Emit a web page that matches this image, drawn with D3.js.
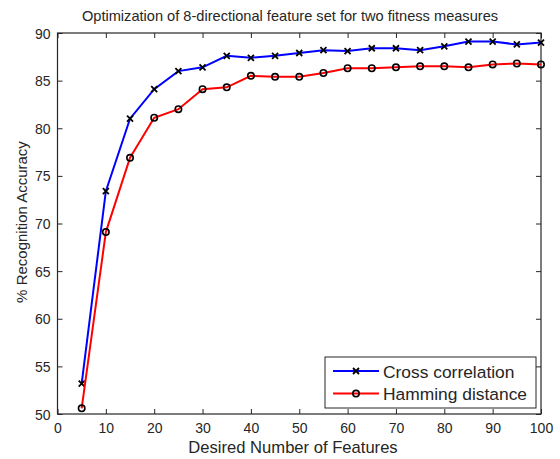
<!DOCTYPE html>
<html>
<head>
<meta charset="utf-8">
<script src="https://cdn.jsdelivr.net/npm/d3@7"></script>
<style>
  body { margin: 0; background: #fff; }
  svg { display: block; font-family: "Liberation Sans", Arial, sans-serif; }
</style>
</head>
<body>
<div id="chart"></div>
<script>
// Data
const features = [5, 10, 15, 20, 25, 30, 35, 40, 45, 50, 55, 60, 65, 70, 75, 80, 85, 90, 95, 100];
const crossCorrelation = [53.2, 73.4, 81.0, 84.1, 86.0, 86.4, 87.6, 87.4, 87.6, 87.9, 88.2, 88.1, 88.4, 88.4, 88.2, 88.6, 89.1, 89.1, 88.8, 89.0];
const hammingDistance = [50.6, 69.1, 76.9, 81.1, 82.0, 84.1, 84.3, 85.5, 85.4, 85.4, 85.8, 86.3, 86.3, 86.4, 86.5, 86.5, 86.4, 86.7, 86.8, 86.7];
const xTicks = [0, 10, 20, 30, 40, 50, 60, 70, 80, 90, 100];
const yTicks = [50, 55, 60, 65, 70, 75, 80, 85, 90];
const seriesNames = ["Cross correlation", "Hamming distance"];

/*******************************/
/*    Declare the constants    */
/*******************************/
const margin = {top: 33, right: 19, bottom: 45, left: 57.5};
const width = 560;
const height = 459;
const innerWidth = width - margin.left - margin.right;
const innerHeight = height - margin.top - margin.bottom;

const svg = d3.select("#chart")
  .append("svg")
    .attr("width", width)
    .attr("height", height);

const innerChart = svg
  .append("g")
    .attr("transform", `translate(${margin.left}, ${margin.top})`);

/****************************/
/*    Declare the scales    */
/****************************/
const xScale = d3.scaleLinear()
  .domain([0, 100])
  .range([0, innerWidth]);

const yScale = d3.scaleLinear()
  .domain([50, 90])
  .range([innerHeight, 0]);

/**************************/
/*      Add the axes      */
/**************************/
const axisColor = "#262626";

// text baseline placed directly, without the em-based dy shift
const styleAxis = (textY) => (g) => {
  g.select(".domain").remove();
  g.selectAll("line").attr("stroke", axisColor);
  g.selectAll("text")
    .attr("dy", null)
    .attr("y", textY)
    .attr("fill", axisColor)
    .style("font-size", "14px");
};

// ticks only, no labels, for the top and right sides
const noLabels = (g) => {
  g.select(".domain").remove();
  g.selectAll("text").remove();
  g.selectAll("line").attr("stroke", axisColor);
};

innerChart.append("g")
    .attr("transform", `translate(0, ${innerHeight})`)
    .call(d3.axisBottom(xScale).tickValues(xTicks).tickSize(-5).tickPadding(9))
    .call(styleAxis(19));

innerChart.append("g")
    .call(d3.axisTop(xScale).tickValues(xTicks).tickSize(-5))
    .call(noLabels);

innerChart.append("g")
    .call(d3.axisLeft(yScale).tickValues(yTicks).tickSize(-5).tickPadding(7))
    .call(styleAxis(5));

innerChart.append("g")
    .attr("transform", `translate(${innerWidth}, 0)`)
    .call(d3.axisRight(yScale).tickValues(yTicks).tickSize(-5))
    .call(noLabels);

// Box around the plot
innerChart.append("rect")
    .attr("x", 0)
    .attr("y", 0)
    .attr("width", innerWidth)
    .attr("height", innerHeight)
    .attr("fill", "none")
    .attr("stroke", axisColor)
    .attr("stroke-width", 1.2);

/**************************/
/*     Draw the series    */
/**************************/
const series = [
  {name: seriesNames[0], values: crossCorrelation, color: "#0000ff", marker: "x"},
  {name: seriesNames[1], values: hammingDistance, color: "#ff0000", marker: "o"}
];

const line = d3.line()
  .x((d, i) => xScale(features[i]))
  .y(d => yScale(d));

const drawMarker = (g, type, x, y) => {
  if (type === "x") {
    const s = 3;
    g.append("path")
      .attr("d", `M${x - s},${y - s}L${x + s},${y + s}M${x - s},${y + s}L${x + s},${y - s}`)
      .attr("stroke", "black")
      .attr("stroke-width", 1.8)
      .attr("fill", "none");
  } else {
    g.append("circle")
      .attr("cx", x)
      .attr("cy", y)
      .attr("r", 3.2)
      .attr("stroke", "black")
      .attr("stroke-width", 1.6)
      .attr("fill", "none");
  }
};

series.forEach(s => {
  innerChart.append("path")
    .datum(s.values)
    .attr("d", line)
    .attr("fill", "none")
    .attr("stroke", s.color)
    .attr("stroke-width", 2);

  const markers = innerChart.append("g");
  s.values.forEach((v, i) => drawMarker(markers, s.marker, xScale(features[i]), yScale(v)));
});

/**************************/
/*       Add labels       */
/**************************/
svg.append("text")
    .text("Optimization of 8-directional feature set for two fitness measures")
    .attr("x", 290)
    .attr("y", 21)
    .attr("text-anchor", "middle")
    .attr("fill", axisColor)
    .style("font-size", "14.6px");

svg.append("text")
    .text("Desired Number of Features")
    .attr("x", 293)
    .attr("y", 453)
    .attr("text-anchor", "middle")
    .attr("fill", axisColor)
    .style("font-size", "16.6px");

svg.append("text")
    .text("% Recognition Accuracy")
    .attr("transform", `translate(27, 222) rotate(-90)`)
    .attr("text-anchor", "middle")
    .attr("fill", axisColor)
    .style("font-size", "15px");

/**************************/
/*       Add legend       */
/**************************/
const legend = svg.append("g")
    .attr("transform", "translate(325, 357)");

legend.append("rect")
    .attr("width", 211)
    .attr("height", 51)
    .attr("fill", "white")
    .attr("stroke", axisColor)
    .attr("stroke-width", 1);

series.forEach((s, i) => {
  const ly = 14 + i * 22.6;
  legend.append("line")
    .attr("x1", 8)
    .attr("x2", 54)
    .attr("y1", ly)
    .attr("y2", ly)
    .attr("stroke", s.color)
    .attr("stroke-width", 2);
  drawMarker(legend, s.marker, 31, ly);
  legend.append("text")
    .text(s.name)
    .attr("x", 58)
    .attr("y", ly + 6.5)
    .attr("fill", axisColor)
    .style("font-size", "17.4px");
});
</script>
</body>
</html>
